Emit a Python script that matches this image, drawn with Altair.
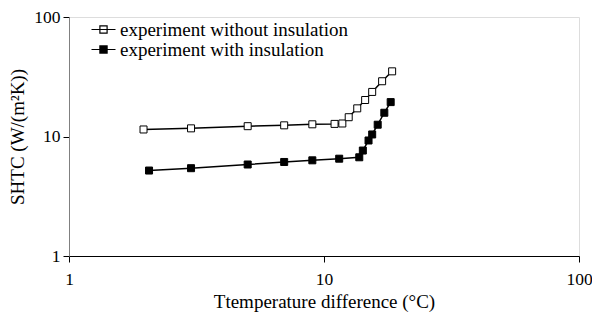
import altair as alt
import pandas as pd

# Series data
x_without = [1.96, 3.01, 5.02, 6.98, 9.0, 11.0, 11.8, 12.5, 13.5, 14.5, 15.45, 16.9, 18.5]
y_without = [11.45, 11.7, 12.2, 12.4, 12.65, 12.75, 12.85, 14.5, 17.2, 20.2, 23.6, 29.0, 35.1]
x_with = [2.06, 3.01, 5.02, 6.98, 9.0, 11.47, 13.75, 14.2, 14.95, 15.45, 16.24, 17.24, 18.26]
y_with = [5.19, 5.43, 5.83, 6.12, 6.32, 6.52, 6.70, 7.63, 9.26, 10.4, 12.55, 15.8, 19.4]
series_names = ["experiment without insulation", "experiment with insulation"]
tick_vals = [1, 10, 100]

rows = []
for i, (xv, yv) in enumerate(zip(x_without, y_without)):
    rows.append({"x": xv, "y": yv, "series": series_names[0], "order": i})
for i, (xv, yv) in enumerate(zip(x_with, y_with)):
    rows.append({"x": xv, "y": yv, "series": series_names[1], "order": i})
df = pd.DataFrame(rows)

FONT = "Liberation Serif"
TXT = 19
TICK = 17.5

xenc = alt.X("x:Q", scale=alt.Scale(type="log", domain=[1, 100]),
             axis=alt.Axis(values=tick_vals, title="Ttemperature difference (°C)",
                           grid=False, domainColor="#000000", tickColor="#000000",
                           tickSize=6, labelPadding=8, titlePadding=5,
                           labelFont=FONT, titleFont=FONT, labelFontSize=TICK,
                           titleFontSize=TXT, titleFontWeight="normal",
                           labelColor="#000", titleColor="#000", format="d",
                           labelFlush=False))
yenc = alt.Y("y:Q", scale=alt.Scale(type="log", domain=[1, 100]),
             axis=alt.Axis(values=tick_vals, title="SHTC (W/(m²K))",
                           grid=False, domainColor="#808080", tickColor="#000000",
                           tickSize=6, labelPadding=3, titlePadding=6,
                           labelFont=FONT, titleFont=FONT, labelFontSize=TICK,
                           titleFontSize=TXT, titleFontWeight="normal",
                           labelColor="#000", titleColor="#000", format="d",
                           labelFlush=False))

sym = "M-2,0H2M-0.6,-0.6H0.6V0.6H-0.6Z"

lines = alt.Chart(df).mark_line(color="black", strokeWidth=1.5).encode(
    x=xenc, y=yenc, detail="series:N", order="order:Q")

points = alt.Chart(df).mark_point(shape="square", size=49, filled=True,
                                  stroke="black", strokeWidth=1, opacity=1).encode(
    x=xenc, y=yenc,
    fill=alt.Fill("series:N",
                  scale=alt.Scale(domain=series_names, range=["white", "black"]),
                  legend=alt.Legend(orient="none", legendX=25, legendY=3, title=None,
                                    symbolType=sym, symbolSize=144,
                                    symbolStrokeColor="black", symbolStrokeWidth=1.2,
                                    labelFont=FONT, labelFontSize=TXT, labelColor="#000",
                                    labelLimit=0, rowPadding=0, labelOffset=7,
                                    padding=0)))

chart = alt.layer(lines, points).properties(
    width=510, height=239,
    autosize=alt.AutoSizeParams(type="none"),
    padding={"left": 69, "top": 17, "right": 13, "bottom": 66},
).configure_view(stroke=None).configure(background="white")

chart.save("out.html", embed_options={"renderer": "svg", "actions": False})
